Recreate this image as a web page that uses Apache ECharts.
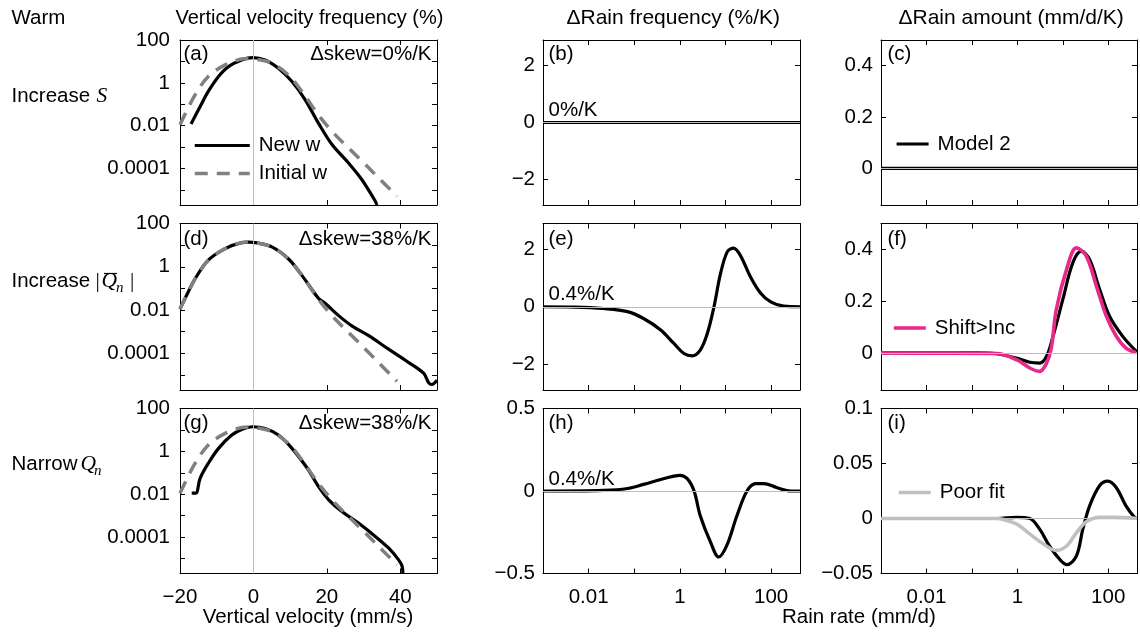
<!DOCTYPE html>
<html>
<head>
<meta charset="utf-8">
<script src="https://cdn.jsdelivr.net/npm/echarts@6/dist/echarts.min.js"></script>
<style>
html,body{margin:0;padding:0;background:#fff;}
#chart{width:1140px;height:635px;}
</style>
</head>
<body>
<div id="chart"></div>
<script>
// ---------------- DATA ----------------
// tick labels
const velTickValues = [-20, 0, 20, 40];
const velTickLabels = ['−20', '0', '20', '40'];
const freqLabelValues = [100, 1, 0.01, 0.0001];
const freqLabelTexts = ['100', '1', '0.01', '0.0001'];
const rateLabelValues = [0.01, 1, 100];
const rateLabelTexts = ['0.01', '1', '100'];
const rainFreqTicks = [-2, 0, 2];
const rainFreqTicksNarrow = [-0.5, 0, 0.5];
const rainAmtTicks = [0, 0.2, 0.4];
const rainAmtTicksNarrow = [-0.05, 0, 0.05, 0.1];

// Column 1: vertical velocity (mm/s) vs frequency (%)
const initW = [-20, -17.8, -15.9, -12.3, -7.7, -3.2, -1.3, 0.5, 5, 9.5, 13.2, 17.7, 21.4, 25.9, 30.5, 35, 39.1];
const initF = [0.0112, 0.066, 0.275, 2.0, 6.9, 13.0, 13.8, 13.0, 8.3, 2.34, 0.40, 0.032, 0.0055, 0.00091, 0.000155, 0.0000257, 0.0000051];

const newAW = [-17, -14.5, -12.3, -9.5, -6.8, -3.2, -0.2, 3.2, 6.8, 10.5, 14.1, 17.7, 21.4, 25.9, 29.5, 33.2, 33.6];
const newAF = [0.012, 0.079, 0.40, 2.0, 5.75, 11.7, 15.1, 11.7, 4.8, 1.15, 0.162, 0.0132, 0.00132, 0.000182, 0.000031, 0.000003, 0.000002];

const newDW = [-20, -17.8, -15.9, -12.3, -7.7, -3.2, -1.3, 0.5, 5, 9.5, 13.2, 17.7, 19.6, 23.2, 26.8, 31.4, 36.8, 42.3, 46.4, 47.7, 48.6, 50];
const newDF = [0.0112, 0.066, 0.275, 2.0, 6.9, 13.0, 13.8, 13.0, 8.3, 2.34, 0.40, 0.035, 0.02, 0.0055, 0.00186, 0.00065, 0.000155, 0.000037, 0.0000117, 0.0000044, 0.0000036, 0.0000056];

const newGW = [-16.8, -15.7, -14.5, -12.3, -9.5, -5.9, -3.2, -0.2, 3.2, 6.8, 10.5, 15, 17.7, 20.5, 24.1, 28.6, 33.2, 36.8, 39.5, 40.5, 40.7];
const newGF = [0.0112, 0.0112, 0.056, 0.275, 1.38, 5.75, 10.5, 14.1, 11.7, 5.75, 1.38, 0.135, 0.023, 0.0055, 0.00155, 0.00045, 0.000107, 0.000031, 0.0000089, 0.0000044, 0.000002];

// Columns 2 & 3: rain rate (mm/d)
const flatRate = [0.001, 430];
const flatVal = [0, 0];

const rateE = [0.001, 0.005, 0.021, 0.071, 0.16, 0.38, 0.74, 1.23, 1.86, 2.8, 4.0, 5.6, 7.8, 11, 15, 21, 35, 59, 98, 190, 430];
const dFreqE = [0, -0.01, -0.06, -0.17, -0.41, -0.81, -1.28, -1.63, -1.71, -1.51, -0.93, 0, 1.16, 1.92, 2.04, 1.80, 1.05, 0.47, 0.17, 0.02, 0];

const rateH = [0.001, 0.021, 0.071, 0.16, 0.38, 0.74, 1.0, 1.45, 2.05, 2.8, 4.7, 7.1, 10.7, 17.8, 29.6, 46, 69, 135, 270, 430];
const dFreqH = [0, 0.004, 0.015, 0.04, 0.07, 0.09, 0.095, 0.075, 0, -0.15, -0.31, -0.40, -0.33, -0.15, 0, 0.045, 0.045, 0.02, 0, 0];

const rateFModel = [0.001, 0.13, 0.35, 0.96, 1.88, 3.1, 4.4, 6.1, 10, 16.6, 25.7, 39, 65, 107, 209, 380, 430];
const dAmtFModel = [0, 0, -0.003, -0.02, -0.036, -0.039, -0.013, 0.064, 0.206, 0.348, 0.393, 0.361, 0.245, 0.142, 0.064, 0.013, 0.005];

const rateFShift = [0.001, 0.35, 0.96, 1.88, 3.1, 4.4, 5.6, 7.2, 12.1, 20, 33, 55, 91, 151, 246, 410];
const dAmtFShift = [0, -0.002, -0.026, -0.058, -0.071, -0.039, 0.02, 0.168, 0.322, 0.406, 0.374, 0.258, 0.142, 0.064, 0.019, 0.002];

const rateIModel = [0.001, 0.35, 0.96, 1.88, 3.1, 5.1, 8.5, 12.3, 20, 27.6, 39, 65, 98, 151, 246, 380, 430];
const dAmtIModel = [0, 0, 0.001, 0, -0.0097, -0.025, -0.037, -0.042, -0.034, -0.0097, 0.0115, 0.030, 0.034, 0.028, 0.0115, 0.001, 0];

const rateIPoor = [0.001, 0.35, 0.5, 0.96, 1.88, 3.7, 7.2, 12.1, 20, 33, 65, 126, 430];
const dAmtIPoor = [0, 0, -0.001, -0.005, -0.014, -0.023, -0.029, -0.025, -0.013, -0.003, 0.001, 0.001, 0];

// ---------------- LAYOUT / STYLE ----------------
const FONT = '"Liberation Sans", Arial, Helvetica, sans-serif';
const SERIF = '"Liberation Serif", "DejaVu Serif", serif';
const FS = 20.5;
const FS_TITLE = 21;
const BLACK = '#000000';
const DASHGRAY = '#808080';
const PINK = '#e7298a';
const LIGHTGRAY = '#c0c0c0';
const REFGRAY = '#bdbdbd';

const colLeft = [180, 543, 881];
const colWidth = [257, 257, 256];
const rowTop = [40, 223.5, 408.5];
const rowHeight = [165, 166.5, 165];

const fmtNum = v => String(+(+v).toFixed(4)).replace('-', '−');
const pick = (vals, texts) => v => {
  const i = vals.findIndex(t => Math.abs(Math.log10(v) - Math.log10(t)) < 1e-6);
  return i >= 0 ? texts[i] : '';
};

const grids = [], xAxes = [], yAxes = [], series = [];

const axisLine = { show: true, onZero: false, lineStyle: { color: BLACK, width: 1 } };
const labelStyle = { color: BLACK, fontSize: FS, fontFamily: FONT };

function tick(custom) {
  const t = { show: true, inside: true, length: 5, lineStyle: { color: BLACK, width: 1 } };
  if (custom) t.customValues = custom;
  return t;
}

for (let p = 0; p < 9; p++) {
  const r = Math.floor(p / 3), c = p % 3;
  grids.push({ left: colLeft[c], top: rowTop[r], width: colWidth[c], height: rowHeight[r] });

  let xBase;
  if (c === 0) {
    xBase = { type: 'value', min: -20, max: 50 };
  } else {
    xBase = { type: 'log', logBase: 10, min: 0.001, max: 430 };
  }
  ['bottom', 'top'].forEach((pos, k) => {
    const ax = Object.assign({}, xBase, {
      gridIndex: p, position: pos,
      axisLine: axisLine,
      axisTick: tick(c === 0 ? velTickValues : null),
      splitLine: { show: false },
      axisLabel: Object.assign({}, labelStyle, { show: k === 0 && r === 2, margin: 13 })
    });
    if (c === 0) {
      ax.axisLabel.customValues = velTickValues;
      ax.axisLabel.formatter = v => velTickLabels[velTickValues.indexOf(v)] || '';
    } else {
      ax.axisLabel.formatter = pick(rateLabelValues, rateLabelTexts);
    }
    xAxes.push(ax);
  });

  let yBase, yTicks = null, yFmt;
  if (c === 0) {
    yBase = { type: 'log', logBase: 10, min: 0.000002, max: 100 };
    yFmt = pick(freqLabelValues, freqLabelTexts);
  } else if (c === 1) {
    if (r < 2) { yBase = { type: 'value', min: -2.9, max: 2.9 }; yTicks = rainFreqTicks; }
    else { yBase = { type: 'value', min: -0.5, max: 0.5 }; yTicks = rainFreqTicksNarrow; }
    yFmt = fmtNum;
  } else {
    if (r < 2) { yBase = { type: 'value', min: -0.143, max: 0.5 }; yTicks = rainAmtTicks; }
    else { yBase = { type: 'value', min: -0.05, max: 0.1 }; yTicks = rainAmtTicksNarrow; }
    yFmt = fmtNum;
  }
  ['left', 'right'].forEach((pos, k) => {
    const ax = Object.assign({}, yBase, {
      gridIndex: p, position: pos,
      axisLine: axisLine,
      axisTick: tick(yTicks),
      splitLine: { show: false },
      axisLabel: Object.assign({}, labelStyle, { show: k === 0, margin: c === 0 ? 10 : 8, formatter: yFmt })
    });
    if (yTicks) ax.axisLabel.customValues = yTicks;
    yAxes.push(ax);
  });
}

function pairs(xs, ys) { return xs.map((x, i) => [x, ys[i]]); }

function line(p, name, xs, ys, color, width, dashed, refLine) {
  const s = {
    type: 'line', name: name,
    xAxisIndex: p * 2, yAxisIndex: p * 2,
    data: pairs(xs, ys),
    symbol: 'none', showSymbol: false,
    smooth: 0.35,
    clip: true,
    lineStyle: { color: color, width: width, type: dashed ? [13, 9] : 'solid', cap: 'butt', join: 'round' },
    itemStyle: { color: color },
    emphasis: { disabled: true },
    silent: true
  };
  if (refLine) {
    s.markLine = {
      silent: true, symbol: ['none', 'none'], label: { show: false },
      lineStyle: { color: REFGRAY, width: 1, type: 'solid' },
      emphasis: { disabled: true },
      data: [refLine]
    };
  }
  series.push(s);
}

// Column 1
line(0, 'New w', newAW, newAF, BLACK, 3.2, false, { xAxis: 0 });
line(0, 'Initial w', initW, initF, DASHGRAY, 3.5, true);
line(3, 'New w', newDW, newDF, BLACK, 3.2, false, { xAxis: 0 });
line(3, 'Initial w', initW, initF, DASHGRAY, 3.5, true);
line(6, 'New w', newGW, newGF, BLACK, 3.2, false, { xAxis: 0 });
line(6, 'Initial w', initW, initF, DASHGRAY, 3.5, true);

// Column 2
line(1, 'Model 2', flatRate, flatVal, BLACK, 3.2, false, { yAxis: 0 });
line(4, 'Model 2', rateE, dFreqE, BLACK, 3.2, false, { yAxis: 0 });
line(7, 'Model 2', rateH, dFreqH, BLACK, 3.2, false, { yAxis: 0 });

// Column 3
line(2, 'Model 2', flatRate, flatVal, BLACK, 3.2, false, { yAxis: 0 });
line(5, 'Model 2', rateFModel, dAmtFModel, BLACK, 3.2, false);
line(5, 'Shift>Inc', rateFShift, dAmtFShift, PINK, 3.6, false, { yAxis: 0 });
line(8, 'Model 2', rateIModel, dAmtIModel, BLACK, 3.2, false);
line(8, 'Poor fit', rateIPoor, dAmtIPoor, LIGHTGRAY, 3.6, false, { yAxis: 0 });

function legend(names, left, top, w, gap) {
  return {
    data: names, orient: 'vertical', left: left, top: top,
    itemWidth: w, itemHeight: 14, itemGap: gap || 10, padding: 0,
    selectedMode: false,
    itemStyle: { opacity: 0, borderWidth: 0 },
    lineStyle: { width: 'inherit' },
    textStyle: { color: BLACK, fontSize: FS, fontFamily: FONT, padding: [0, 0, 0, 4] }
  };
}

function txt(text, x, y, extra) {
  return {
    type: 'text', x: x, y: y, silent: true, z: 100,
    style: Object.assign({ text: text, fill: BLACK, fontSize: FS, fontFamily: FONT, align: 'left', verticalAlign: 'middle' }, extra || {})
  };
}
const it = { fontFamily: SERIF, fontStyle: 'italic', fontSize: 21.5 };
const itSub = { fontFamily: SERIF, fontStyle: 'italic', fontSize: 15 };

const graphic = [
  txt('Warm', 11.5, 18.5),
  txt('Vertical velocity frequency (%)', 175.5, 18.5, { fontSize: 20 }),
  txt('ΔRain frequency (%/K)', 566.5, 18.5, { fontSize: FS_TITLE }),
  txt('ΔRain amount (mm/d/K)', 898.5, 18.5, { fontSize: FS_TITLE }),
  // row labels
  txt('Increase', 11.5, 96.5),
  txt('S', 96.5, 96.5, it),
  txt('Increase', 11.5, 281.5),
  txt('|', 95.5, 281.5, { fontFamily: SERIF, fontSize: 21.5 }),
  txt('Q', 101.5, 281.5, it),
  txt('n', 116, 288, itSub),
  txt('|', 130, 281.5, { fontFamily: SERIF, fontSize: 21.5 }),
  { type: 'line', silent: true, z: 100, shape: { x1: 104, y1: 273.5, x2: 117, y2: 273.5 }, style: { stroke: BLACK, lineWidth: 1.2 } },
  txt('Narrow', 11.5, 464.5),
  txt('Q', 80.5, 464.5, it),
  txt('n', 94, 471, itSub),
  // axis names
  txt('Vertical velocity (mm/s)', 308, 617, { align: 'center' }),
  txt('Rain rate (mm/d)', 782, 617),
  // panel letters
  txt('(a)', 183.5, 54.5), txt('(b)', 548.5, 54.5), txt('(c)', 887.5, 54.5),
  txt('(d)', 183.5, 239), txt('(e)', 548.5, 239), txt('(f)', 887.5, 239),
  txt('(g)', 183.5, 423.5), txt('(h)', 548.5, 423.5), txt('(i)', 887.5, 423.5),
  // annotations
  txt('Δskew=0%/K', 431.5, 54.5, { align: 'right' }),
  txt('Δskew=38%/K', 431.5, 239, { align: 'right' }),
  txt('Δskew=38%/K', 431.5, 423.5, { align: 'right' }),
  txt('0%/K', 548.5, 110),
  txt('0.4%/K', 548.5, 294),
  txt('0.4%/K', 548.5, 479)
];

const chart = echarts.init(document.getElementById('chart'), null, { renderer: 'canvas' });
chart.setOption({
  animation: false,
  backgroundColor: '#ffffff',
  grid: grids,
  xAxis: xAxes,
  yAxis: yAxes,
  series: series,
  legend: [
    legend(['New w', 'Initial w'], 193, 135, 55, 7),
    legend(['Model 2'], 895, 133.5, 32),
    legend(['Shift>Inc'], 892, 317.5, 32),
    legend(['Poor fit'], 897, 482, 32)
  ],
  graphic: graphic
});
</script>
</body>
</html>
